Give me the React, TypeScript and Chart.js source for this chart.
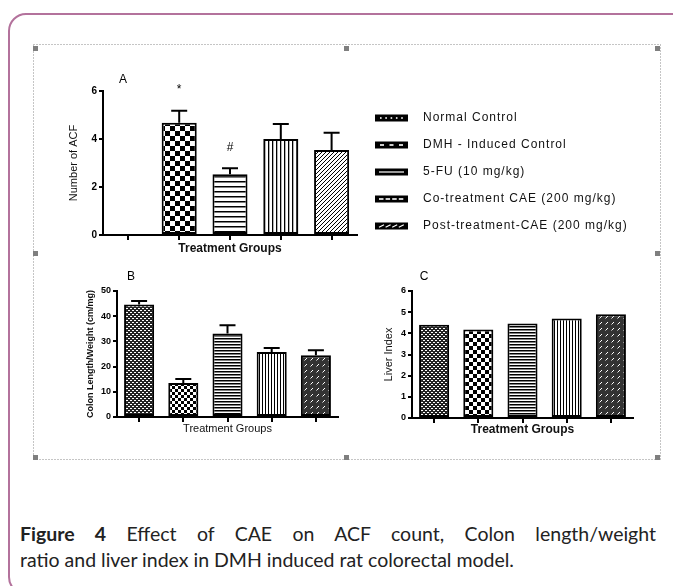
import React, { useEffect, useRef } from 'react';
import { Chart, registerables } from 'chart.js';

Chart.register(...registerables);

// ---------- data ----------
const groups = [
  'Normal Control',
  'DMH - Induced Control',
  '5-FU (10 mg/kg)',
  'Co-treatment CAE (200 mg/kg)',
  'Post-treatment-CAE (200 mg/kg)',
];
const acfValues = [0, 4.68, 2.53, 4.0, 3.54];
const acfErrors = [0, 0.5, 0.25, 0.62, 0.72];
const acfMarks = ['', '*', '#', '', ''];
const acfTicks = [0, 2, 4, 6];

const colonValues = [44.6, 13.5, 33.1, 25.8, 24.5];
const colonErrors = [1.4, 1.6, 3.3, 1.6, 2.0];
const colonTicks = [0, 10, 20, 30, 40, 50];

const liverValues = [4.41, 4.18, 4.46, 4.7, 4.9];
const liverTicks = [0, 1, 2, 3, 4, 5, 6];

const panelLabels = ['A', 'B', 'C'];
const xTitle = 'Treatment Groups';
const yTitles = ['Number of ACF', 'Colon Length/Weight (cm/mg)', 'Liver Index'];
const captionBold = 'Figure 4';
const captionLine1 = ' Effect of CAE on ACF count, Colon length/weight';
const captionLine2 = 'ratio and liver index in DMH induced rat colorectal model.';

const FONT = '"Liberation Sans", Arial, sans-serif';

// ---------- patterns ----------
type Draw = (g: CanvasRenderingContext2D, w: number, h: number) => void;
function pat(ctx: CanvasRenderingContext2D, w: number, h: number, draw: Draw) {
  const c = document.createElement('canvas');
  c.width = w;
  c.height = h;
  const g = c.getContext('2d')!;
  draw(g, w, h);
  return ctx.createPattern(c, 'repeat')!;
}
const checker = (ctx: CanvasRenderingContext2D, s: number) =>
  pat(ctx, s * 2, s * 2, (g) => {
    g.fillStyle = '#fff';
    g.fillRect(0, 0, s * 2, s * 2);
    g.fillStyle = '#000';
    g.fillRect(0, 0, s, s);
    g.fillRect(s, s, s, s);
  });
const hLines = (ctx: CanvasRenderingContext2D, p: number, t: number) =>
  pat(ctx, 4, p, (g) => {
    g.fillStyle = '#fff';
    g.fillRect(0, 0, 4, p);
    g.fillStyle = '#000';
    g.fillRect(0, 0, 4, t);
  });
const vLines = (ctx: CanvasRenderingContext2D, p: number, t: number) =>
  pat(ctx, p, 4, (g) => {
    g.fillStyle = '#fff';
    g.fillRect(0, 0, p, 4);
    g.fillStyle = '#000';
    g.fillRect(0, 0, t, 4);
  });
const diag = (ctx: CanvasRenderingContext2D, p: number) =>
  pat(ctx, p, p, (g) => {
    g.fillStyle = '#fff';
    g.fillRect(0, 0, p, p);
    g.strokeStyle = '#000';
    g.lineWidth = 1;
    g.beginPath();
    g.moveTo(-1, p + 1);
    g.lineTo(p + 1, -1);
    g.moveTo(-1, 1);
    g.lineTo(1, -1);
    g.moveTo(p - 1, p + 1);
    g.lineTo(p + 1, p - 1);
    g.stroke();
  });
const dots = (ctx: CanvasRenderingContext2D) =>
  pat(ctx, 4, 4, (g) => {
    g.fillStyle = '#222';
    g.fillRect(0, 0, 4, 4);
    g.fillStyle = '#fff';
    g.fillRect(0, 0, 2, 1);
    g.fillRect(2, 2, 2, 1);
  });
const diagDots = (ctx: CanvasRenderingContext2D) =>
  pat(ctx, 6, 6, (g) => {
    g.fillStyle = '#333';
    g.fillRect(0, 0, 6, 6);
    g.strokeStyle = '#fff';
    g.lineWidth = 1;
    g.beginPath();
    g.moveTo(0.5, 4.5);
    g.lineTo(3, 2);
    g.stroke();
  });

// ---------- plugins ----------
const errorBarPlugin = {
  id: 'errorBars',
  afterDatasetsDraw(chart: any, _a: any, opts: any) {
    const errs: number[] | undefined = opts.errors;
    const ctx = chart.ctx as CanvasRenderingContext2D;
    const ys = chart.scales.y;
    const vals = chart.data.datasets[0].data as number[];
    const meta = chart.getDatasetMeta(0);
    ctx.save();
    ctx.strokeStyle = '#000';
    ctx.lineWidth = 2;
    meta.data.forEach((bar: any, i: number) => {
      const v = vals[i];
      const e = errs ? errs[i] : 0;
      const y0 = ys.getPixelForValue(v);
      const y1 = ys.getPixelForValue(v + (e || 0));
      if (e) {
        ctx.beginPath();
        ctx.moveTo(bar.x, y0);
        ctx.lineTo(bar.x, y1);
        ctx.moveTo(bar.x - 8, y1);
        ctx.lineTo(bar.x + 8, y1);
        ctx.stroke();
      }
      const m = opts.marks ? opts.marks[i] : '';
      if (m) {
        ctx.fillStyle = '#000';
        ctx.font = `12px ${FONT}`;
        ctx.textAlign = 'center';
        ctx.textBaseline = 'middle';
        ctx.fillText(m, bar.x, y1 - 21);
      }
    });
    ctx.restore();
  },
};

const panelPlugin = {
  id: 'panel',
  afterDraw(chart: any, _a: any, opts: any) {
    if (!opts.text) return;
    const ctx = chart.ctx as CanvasRenderingContext2D;
    const ca = chart.chartArea;
    ctx.save();
    ctx.fillStyle = '#000';
    ctx.font = `12px ${FONT}`;
    ctx.textAlign = 'center';
    ctx.textBaseline = 'middle';
    ctx.fillText(opts.text, ca.left + opts.dx, ca.top + opts.dy);
    ctx.restore();
  },
};

const legendPlugin = {
  id: 'groupLegend',
  afterDraw(chart: any, _a: any, opts: any) {
    if (!opts.show) return;
    const ctx = chart.ctx as CanvasRenderingContext2D;
    const ca = chart.chartArea;
    const sx = ca.right + 18;
    const sw = 33;
    const sh = 7;
    ctx.save();
    groups.forEach((label, i) => {
      const y = ca.top + 27 * (i + 1);
      ctx.fillStyle = '#000';
      ctx.fillRect(sx, y - sh / 2, sw, sh);
      ctx.fillStyle = '#fff';
      ctx.strokeStyle = '#fff';
      if (i === 0) {
        for (let k = 0; k < 5; k++) ctx.fillRect(sx + 5 + k * 5.3, y - 0.8, 1.6, 1.6);
      } else if (i === 1) {
        for (let k = 0; k < 3; k++) ctx.fillRect(sx + 5 + k * 9.5, y - 0.8, 4, 1.6);
      } else if (i === 2) {
        ctx.fillRect(sx + 4, y - 0.6, sw - 8, 1.2);
      } else if (i === 3) {
        for (let k = 0; k < 4; k++) ctx.fillRect(sx + 4 + k * 6.6, y - 0.8, 4.5, 1.6);
      } else {
        ctx.lineWidth = 1.2;
        ctx.beginPath();
        for (let k = 0; k < 4; k++) {
          ctx.moveTo(sx + 4 + k * 6.6, y + 1.2);
          ctx.lineTo(sx + 9 + k * 6.6, y - 1.2);
        }
        ctx.stroke();
      }
      ctx.fillStyle = '#111';
      ctx.font = `12px ${FONT}`;
      (ctx as any).letterSpacing = '1px';
      ctx.textAlign = 'left';
      ctx.textBaseline = 'middle';
      ctx.fillText(label, sx + 48, y);
      (ctx as any).letterSpacing = '0px';
    });
    ctx.restore();
  },
};

// ---------- config ----------
interface Cfg {
  values: number[];
  colors: any[];
  ticks: number[];
  errors?: number[];
  marks?: string[];
  yTitle: string;
  yTitleFont: any;
  yTitlePad: number;
  xTitleFont: any;
  xTitlePad: number;
  tickFont: any;
  yWidth: number;
  xHeight: number;
  padding: any;
  barPct: number;
  panel: { text: string; dx: number; dy: number };
  legend?: boolean;
}

function makeChart(canvas: HTMLCanvasElement, c: Cfg) {
  return new Chart(canvas, {
    type: 'bar',
    data: {
      labels: groups,
      datasets: [
        {
          data: c.values,
          backgroundColor: c.colors,
          borderColor: '#000',
          borderWidth: 2,
          borderSkipped: false,
          barPercentage: c.barPct,
          categoryPercentage: 1,
        },
      ],
    },
    options: {
      animation: false,
      responsive: false,
      devicePixelRatio: 1,
      layout: { padding: c.padding },
      plugins: {
        legend: { display: false },
        tooltip: { enabled: false },
        errorBars: { errors: c.errors, marks: c.marks },
        panel: c.panel,
        groupLegend: { show: !!c.legend },
      } as any,
      scales: {
        x: {
          grid: {
            display: true,
            drawOnChartArea: false,
            offset: false,
            color: '#000',
            lineWidth: 2,
            tickLength: 5,
          },
          border: { display: true, color: '#000', width: 2 },
          ticks: { display: false },
          title: {
            display: true,
            text: xTitle,
            font: c.xTitleFont,
            color: '#111',
            padding: { top: 0, bottom: c.xTitlePad },
          },
          afterFit: (s: any) => {
            s.height = c.xHeight;
          },
        },
        y: {
          min: c.ticks[0],
          max: c.ticks[c.ticks.length - 1],
          afterBuildTicks: (s: any) => {
            s.ticks = c.ticks.map((v) => ({ value: v }));
          },
          grid: {
            display: true,
            drawOnChartArea: false,
            color: '#000',
            lineWidth: 2,
            tickLength: 4,
          },
          border: { display: true, color: '#000', width: 2 },
          ticks: { font: c.tickFont, color: '#000', padding: 2 },
          title: {
            display: true,
            text: c.yTitle,
            font: c.yTitleFont,
            color: '#111',
            padding: { top: c.yTitlePad, bottom: 0 },
          },
          afterFit: (s: any) => {
            s.width = c.yWidth;
          },
        },
      },
    },
    plugins: [errorBarPlugin, panelPlugin, legendPlugin],
  } as any);
}

export default function App() {
  const aRef = useRef<HTMLCanvasElement>(null);
  const bRef = useRef<HTMLCanvasElement>(null);
  const cRef = useRef<HTMLCanvasElement>(null);

  useEffect(() => {
    const a = aRef.current!;
    const b = bRef.current!;
    const c = cRef.current!;
    const actx = a.getContext('2d')!;
    const bctx = b.getContext('2d')!;
    const cctx = c.getContext('2d')!;

    const chartA = makeChart(a, {
      values: acfValues,
      colors: ['#fff', checker(actx, 5), hLines(actx, 5, 1.5), vLines(actx, 4.5, 1.3), diag(actx, 4)],
      ticks: acfTicks,
      errors: acfErrors,
      marks: acfMarks,
      yTitle: yTitles[0],
      yTitleFont: { family: FONT, size: 11 },
      yTitlePad: 27,
      xTitleFont: { family: FONT, size: 12, weight: 'bold' },
      xTitlePad: 5,
      tickFont: { family: FONT, size: 10, weight: 'bold' },
      yWidth: 63,
      xHeight: 26,
      padding: { top: 25, right: 298, left: 0, bottom: 0 },
      barPct: 0.69,
      panel: { text: panelLabels[0], dx: 20, dy: -11 },
      legend: true,
    });

    const chartB = makeChart(b, {
      values: colonValues,
      colors: [dots(bctx), checker(bctx, 3), hLines(bctx, 3, 1.5), vLines(bctx, 3.4, 1), diagDots(bctx)],
      ticks: colonTicks,
      errors: colonErrors,
      yTitle: yTitles[1],
      yTitleFont: { family: FONT, size: 9, weight: 'bold' },
      yTitlePad: 45,
      xTitleFont: { family: FONT, size: 11 },
      xTitlePad: 10,
      tickFont: { family: FONT, size: 9, weight: 'bold' },
      yWidth: 77,
      xHeight: 29,
      padding: { top: 25, right: 12, left: 0, bottom: 0 },
      barPct: 0.68,
      panel: { text: panelLabels[1], dx: 14, dy: -14 },
    });

    const chartC = makeChart(c, {
      values: liverValues,
      colors: [dots(cctx), checker(cctx, 4), hLines(cctx, 3, 1.5), vLines(cctx, 3.4, 1), diagDots(cctx)],
      ticks: liverTicks,
      yTitle: yTitles[2],
      yTitleFont: { family: FONT, size: 11 },
      yTitlePad: 17,
      xTitleFont: { family: FONT, size: 12, weight: 'bold' },
      xTitlePad: 9,
      tickFont: { family: FONT, size: 9, weight: 'bold' },
      yWidth: 47,
      xHeight: 28,
      padding: { top: 25, right: 22, left: 0, bottom: 0 },
      barPct: 0.68,
      panel: { text: panelLabels[2], dx: 12, dy: -14 },
    });

    return () => {
      chartA.destroy();
      chartB.destroy();
      chartC.destroy();
    };
  }, []);

  const handles = [
    [33, 46], [344, 46], [655, 46],
    [33, 251], [655, 251],
    [33, 455], [344, 455], [655, 455],
  ];

  const captionFont: React.CSSProperties = {
    position: 'absolute',
    left: 20,
    fontFamily: 'Lato, "Open Sans", sans-serif',
    fontSize: 19.5,
    lineHeight: '26px',
    color: '#222',
  };

  return (
    <div
      style={{
        position: 'absolute',
        left: 0,
        top: 0,
        width: 673,
        height: 586,
        overflow: 'hidden',
        background: '#fff',
      }}
    >
      <div
        style={{
          position: 'absolute',
          left: 8,
          top: 13,
          width: 720,
          height: 582,
          border: '2px solid #b3729c',
          borderRadius: 18,
          boxSizing: 'border-box',
        }}
      />
      <svg width={673} height={586} style={{ position: 'absolute', left: 0, top: 0 }}>
        <rect
          x={33.5}
          y={44.5}
          width={627}
          height={415}
          fill="none"
          stroke="#8a8a8a"
          strokeWidth={1}
          strokeDasharray="1 2"
        />
        {handles.map(([x, y], i) => (
          <rect key={i} x={x} y={y} width={5} height={5} fill="#7f7f7f" />
        ))}
      </svg>
      <canvas ref={aRef} width={615} height={195} style={{ position: 'absolute', left: 40, top: 66 }} />
      <canvas ref={bRef} width={310} height={180} style={{ position: 'absolute', left: 40, top: 266 }} />
      <canvas ref={cRef} width={290} height={180} style={{ position: 'absolute', left: 365, top: 266 }} />
      <div
        style={{
          ...captionFont,
          top: 521,
          width: 636,
          textAlign: 'justify',
          textAlignLast: 'justify',
        }}
      >
        <b>{captionBold}</b>
        {captionLine1}
      </div>
      <div style={{ ...captionFont, top: 547, whiteSpace: 'nowrap' }}>{captionLine2}</div>
    </div>
  );
}
